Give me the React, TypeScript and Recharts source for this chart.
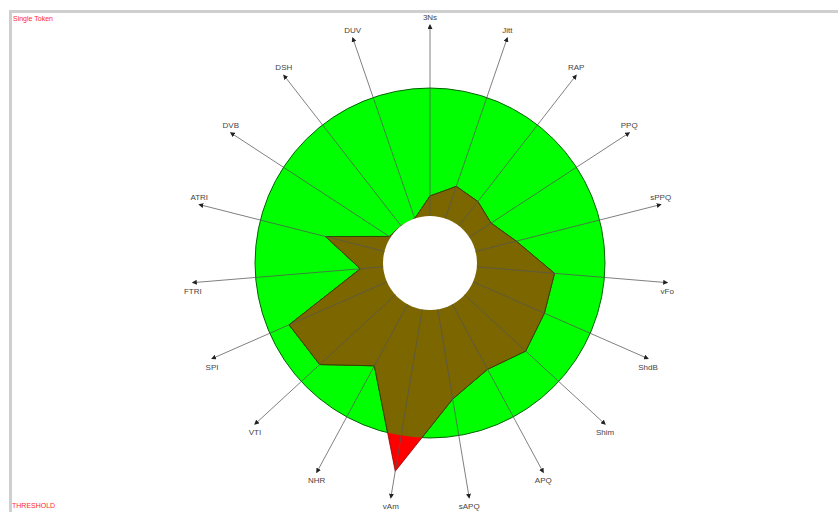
import { RadarChart, Radar, PolarAngleAxis, PolarRadiusAxis } from 'recharts'

// voice parameters, clockwise from the top
const axes = ['3Ns', 'Jitt', 'RAP', 'PPQ', 'sPPQ', 'vFo', 'ShdB', 'Shim', 'APQ', 'sAPQ', 'vAm', 'NHR', 'VTI', 'SPI', 'FTRI', 'ATRI', 'DVB', 'DSH', 'DUV']
const scores = [10.5, 17.8, 16.2, 13.6, 22, 40.8, 40.8, 43.5, 38.7, 47.6, 85.9, 36.6, 53.9, 56, 12, 31.9, 0.8, 0, 0]
const threshold = 67
const axisMax = 100

const W = 838
const H = 512
const CX = 430
const CY = 263
const INNER = 47
const OUTER = 238

const data = axes.map((axis, i) => ({
  axis,
  score: scores[i],
  threshold,
  zero: 0,
  tip: axisMax
}))

const toRadius = (v: number) => INNER + (v / axisMax) * (OUTER - INNER)

const ThresholdShape = (props: any) => {
  const p = props.points[0]
  return <circle cx={p.cx} cy={p.cy} r={p.radius} fill="#00ff00" stroke="#006400" strokeWidth={1} />
}

const HoleShape = (props: any) => {
  const p = props.points[0]
  return <circle cx={p.cx} cy={p.cy} r={p.radius} fill="#ffffff" />
}

const ScoreShape = (props: any) => {
  const { points } = props
  const p0 = points[0]
  const pts = points.map((p: any) => `${p.x},${p.y}`).join(' ')
  return (
    <g>
      <defs>
        <clipPath id="inside-threshold">
          <circle cx={p0.cx} cy={p0.cy} r={toRadius(threshold)} />
        </clipPath>
      </defs>
      <polygon points={pts} fill="#ff0000" stroke="#8a0000" strokeWidth={0.8} />
      <polygon points={pts} fill="#7b6600" stroke="#2e4a00" strokeWidth={1} clipPath="url(#inside-threshold)" />
    </g>
  )
}

const SpokeShape = (props: any) => {
  const { points } = props
  return (
    <g>
      <defs>
        <marker id="arrow" markerWidth="5" markerHeight="5" refX="4" refY="2.5" orient="auto" markerUnits="userSpaceOnUse">
          <path d="M0,0 L5,2.5 L0,5 z" fill="#222" />
        </marker>
      </defs>
      {points.map((p: any, i: number) => {
        const k = INNER / p.radius
        return (
          <line
            key={i}
            x1={p.cx + (p.x - p.cx) * k}
            y1={p.cy + (p.y - p.cy) * k}
            x2={p.x}
            y2={p.y}
            stroke="#555"
            strokeWidth={0.75}
            markerEnd="url(#arrow)"
          />
        )
      })}
    </g>
  )
}

const AxisTick = (props: any) => {
  const { x, y, payload } = props
  const dx = x - CX
  const dy = y - CY
  const r = Math.sqrt(dx * dx + dy * dy)
  const tx = CX + (dx / r) * OUTER
  const ty = CY + (dy / r) * OUTER
  const above = dy < 0
  return (
    <text
      x={tx}
      y={above ? ty - 5 : ty + 11}
      textAnchor="middle"
      fontSize={8}
      fontFamily="Liberation Sans, Arial, sans-serif"
      fill="#444"
    >
      {payload.value}
    </text>
  )
}

export default function App() {
  return (
    <div style={{ position: 'relative', width: W, height: H, background: '#fff', overflow: 'hidden' }}>
      <style>{'body{margin:0}'}</style>
      <div
        style={{
          position: 'absolute',
          left: 9,
          top: 10,
          right: 0,
          bottom: 0,
          borderLeft: '3px solid #cfcfcf',
          borderTop: '3px solid #cfcfcf'
        }}
      />
      <div style={{ position: 'absolute', left: 13, top: 15, fontSize: 7, color: '#ff2a2a', fontFamily: 'Liberation Sans, Arial, sans-serif' }}>
        Single Token
      </div>
      <div style={{ position: 'absolute', left: 12, top: 502, fontSize: 7, color: '#ff2a2a', fontFamily: 'Liberation Sans, Arial, sans-serif' }}>
        THRESHOLD
      </div>
      <div style={{ position: 'absolute', left: 0, top: 0 }}>
        <RadarChart width={W} height={H} data={data} cx={CX} cy={CY} innerRadius={INNER} outerRadius={OUTER} margin={{ top: 0, right: 0, bottom: 0, left: 0 }}>
          <PolarAngleAxis dataKey="axis" tick={<AxisTick />} tickLine={false} axisLine={false} />
          <PolarRadiusAxis domain={[0, axisMax]} tick={false} axisLine={false} />
          <Radar dataKey="threshold" shape={<ThresholdShape />} isAnimationActive={false} dot={false} />
          <Radar dataKey="score" shape={<ScoreShape />} isAnimationActive={false} dot={false} />
          <Radar dataKey="zero" shape={<HoleShape />} isAnimationActive={false} dot={false} />
          <Radar dataKey="tip" shape={<SpokeShape />} isAnimationActive={false} dot={false} />
        </RadarChart>
      </div>
    </div>
  )
}
